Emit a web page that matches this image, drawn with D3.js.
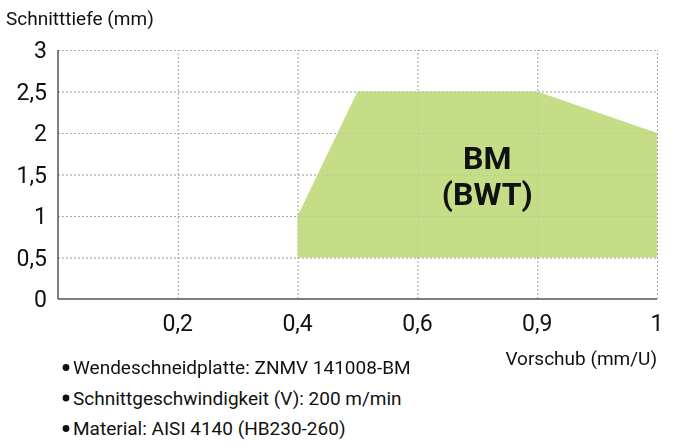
<!DOCTYPE html>
<html>
<head>
<meta charset="utf-8">
<script src="https://cdn.jsdelivr.net/npm/d3@7"></script>
<style>
    body { margin: 0; background: #fff; }
    svg text { font-family: 'Liberation Sans Narrow', 'Roboto', sans-serif; fill: #111; }
    .grid line { stroke: #aaa; stroke-dasharray: 2,2; }
    .grid .domain { display: none; }
</style>
</head>
<body>
<div id="myChart"></div>
<script>
// feed values shown on the x axis (spacing is not proportional in the original)
const feedTicks = [0, 0.2, 0.4, 0.6, 0.9, 1];
const depthTicks = [0, 0.5, 1, 1.5, 2, 2.5, 3];
// outline of the BM (BWT) application range: feed / depth
const areaFeed = [0.4, 0.4, 0.5, 0.9, 1, 1];
const areaDepth = [0.5, 1, 2.5, 2.5, 2, 0.5];
const notes = [
    'Wendeschneidplatte: ZNMV 141008-BM',
    'Schnittgeschwindigkeit (V): 200 m/min',
    'Material: AISI 4140 (HB230-260)',
];

const width = 673, height = 446;
const margin = { left: 58, top: 50, right: 16, bottom: 147 };
const w = width - margin.left - margin.right;
const h = height - margin.top - margin.bottom;

let svg = d3.select('#myChart').append('svg')
    .attr('width', width)
    .attr('height', height);

let g = svg.append('g')
    .attr('transform', 'translate(' + margin.left + ',' + margin.top + ')');

// piecewise linear: each labelled tick gets the same spacing
let x = d3.scaleLinear()
    .domain(feedTicks)
    .range(feedTicks.map((d, i) => i * w / (feedTicks.length - 1)));
let y = d3.scaleLinear().domain([0, 3]).range([h, 0]);

const fmt = (d) => String(d).replace('.', ',');

function grid(opacity) {
    g.append('g').attr('class', 'grid')
        .style('opacity', opacity)
        .call(d3.axisLeft(y).tickValues(depthTicks.slice(1)).tickSize(-w).tickFormat(''));
    g.append('g').attr('class', 'grid')
        .style('opacity', opacity)
        .attr('transform', 'translate(0,' + h + ')')
        .call(d3.axisBottom(x).tickValues(feedTicks.slice(1)).tickSize(h).tickFormat(''))
        .selectAll('line').attr('y2', -h);
}

grid(1);

// area
let pts = areaFeed.map((f, i) => [x(f), y(areaDepth[i])]);
g.append('path')
    .attr('d', d3.line()(pts) + 'Z')
    .attr('fill', '#c6dd88');

// grid shows faintly through the area
grid(0.35);

// axes lines
g.append('line').attr('x1', 0).attr('x2', 0).attr('y1', 0).attr('y2', h)
    .attr('stroke', '#555').attr('stroke-width', 1.5);
g.append('line').attr('x1', 0).attr('x2', w).attr('y1', h).attr('y2', h)
    .attr('stroke', '#555').attr('stroke-width', 1.5);

// tick labels
g.selectAll('.ylab').data(depthTicks).enter().append('text')
    .attr('class', 'ylab')
    .attr('x', -11)
    .attr('y', (d) => y(d) + 8)
    .attr('text-anchor', 'end')
    .style('font-size', '23px')
    .text(fmt);

g.selectAll('.xlab').data(feedTicks.slice(1)).enter().append('text')
    .attr('class', 'xlab')
    .attr('x', (d) => x(d))
    .attr('y', h + 32)
    .attr('text-anchor', 'middle')
    .style('font-size', '23px')
    .text(fmt);

// area label
g.append('text')
    .attr('x', x(0.775))
    .attr('y', y(1.57))
    .attr('text-anchor', 'middle')
    .style('font-size', '32px')
    .style('font-weight', 'bold')
    .text('BM');
g.append('text')
    .attr('x', x(0.775))
    .attr('y', y(1.13))
    .attr('text-anchor', 'middle')
    .style('font-size', '32px')
    .style('font-weight', 'bold')
    .text('(BWT)');

// axis titles
svg.append('text')
    .attr('x', 6).attr('y', 25)
    .style('font-size', '19px')
    .text('Schnitttiefe (mm)');
svg.append('text')
    .attr('x', 657).attr('y', 365)
    .attr('text-anchor', 'end')
    .style('font-size', '19px')
    .text('Vorschub (mm/U)');

// notes
let note = svg.selectAll('.note').data(notes).enter().append('g')
    .attr('class', 'note')
    .attr('transform', (d, i) => 'translate(0,' + (374 + i * 30.5) + ')');
note.append('circle')
    .attr('cx', 66).attr('cy', -6.5).attr('r', 3.4)
    .attr('fill', '#111');
note.append('text')
    .attr('x', 73)
    .style('font-size', '19px')
    .text((d) => d);
</script>
</body>
</html>
